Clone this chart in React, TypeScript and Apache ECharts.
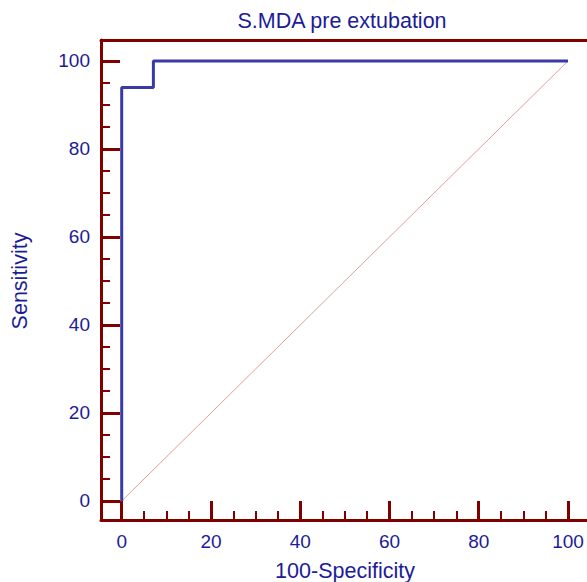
import React, { useEffect, useRef } from "react";
import * as echarts from "echarts";

const rocX = [0, 0, 7.1, 7.1, 100];
const rocY = [0, 94, 94, 100, 100];
const refX = [0, 100];
const refY = [0, 100];
const majorTicks = [0, 20, 40, 60, 80, 100];
const minorTicks = [5, 10, 15, 25, 30, 35, 45, 50, 55, 65, 70, 75, 85, 90, 95];
const titleText = "S.MDA pre extubation";
const xName = "100-Specificity";
const yName = "Sensitivity";

const X_MIN = -4.64;
const X_MAX = 104.26;
const Y_MIN = -4.32;
const Y_MAX = 104.77;

const AXIS_RED = "#800000";
const TEXT_BLUE = "#1c1c96";
const CURVE_BLUE = "#3a3aa6";
const FONT = "'Liberation Sans', Arial, sans-serif";

export default function App() {
  const ref = useRef<HTMLDivElement>(null);
  useEffect(() => {
    if (!ref.current) return;
    const chart = echarts.init(ref.current, undefined, { renderer: "svg" });
    const baseX = { type: "value", min: X_MIN, max: X_MAX, gridIndex: 0, splitLine: { show: false } };
    const baseY = { type: "value", min: Y_MIN, max: Y_MAX, gridIndex: 0, splitLine: { show: false } };
    chart.setOption({
      animation: false,
      backgroundColor: "#ffffff",
      grid: { left: 101, right: 0, top: 40, bottom: 62, containLabel: false },
      xAxis: [
        {
          ...baseX,
          position: "bottom",
          axisLine: { show: true, onZero: false, lineStyle: { color: AXIS_RED, width: 3 } },
          axisTick: { show: true, inside: true, length: 19, customValues: majorTicks, lineStyle: { color: AXIS_RED, width: 3 } },
          axisLabel: { show: true, customValues: majorTicks, margin: 12, color: TEXT_BLUE, fontSize: 19, fontFamily: FONT },
        },
        {
          ...baseX,
          position: "bottom",
          axisLine: { show: false, onZero: false },
          axisTick: { show: true, inside: true, length: 9, customValues: minorTicks, lineStyle: { color: AXIS_RED, width: 2 } },
          axisLabel: { show: false },
        },
        {
          ...baseX,
          position: "top",
          axisLine: { show: true, onZero: false, lineStyle: { color: AXIS_RED, width: 3 } },
          axisTick: { show: false },
          axisLabel: { show: false },
        },
      ],
      yAxis: [
        {
          ...baseY,
          position: "left",
          axisLine: { show: true, onZero: false, lineStyle: { color: AXIS_RED, width: 3 } },
          axisTick: { show: true, inside: true, length: 19, customValues: majorTicks, lineStyle: { color: AXIS_RED, width: 3 } },
          axisLabel: { show: true, customValues: majorTicks, margin: 11, color: TEXT_BLUE, fontSize: 19, fontFamily: FONT },
        },
        {
          ...baseY,
          position: "left",
          axisLine: { show: false, onZero: false },
          axisTick: { show: true, inside: true, length: 9, customValues: minorTicks, lineStyle: { color: AXIS_RED, width: 2 } },
          axisLabel: { show: false },
        },
      ],
      graphic: [
        {
          type: "text",
          x: 342,
          y: 21,
          style: { text: titleText, fill: TEXT_BLUE, font: `21.5px ${FONT}`, textAlign: "center", textVerticalAlign: "middle" },
        },
        {
          type: "text",
          x: 345,
          y: 571,
          style: { text: xName, fill: TEXT_BLUE, font: `21.5px ${FONT}`, textAlign: "center", textVerticalAlign: "middle" },
        },
        {
          type: "text",
          x: 20,
          y: 281,
          rotation: Math.PI / 2,
          style: { text: yName, fill: TEXT_BLUE, font: `21.5px ${FONT}`, textAlign: "center", textVerticalAlign: "middle" },
        },
      ],
      series: [
        {
          type: "line",
          xAxisIndex: 0,
          yAxisIndex: 0,
          data: refX.map((x, i) => [x, refY[i]]),
          symbol: "none",
          lineStyle: { color: "#dca0a0", width: 1 },
          silent: true,
        },
        {
          type: "line",
          xAxisIndex: 0,
          yAxisIndex: 0,
          data: rocX.map((x, i) => [x, rocY[i]]),
          symbol: "none",
          lineStyle: { color: CURVE_BLUE, width: 3 },
          silent: true,
        },
      ],
    });
    return () => chart.dispose();
  }, []);
  return <div ref={ref} style={{ width: 587, height: 582, position: "absolute", left: 0, top: 0 }} />;
}
